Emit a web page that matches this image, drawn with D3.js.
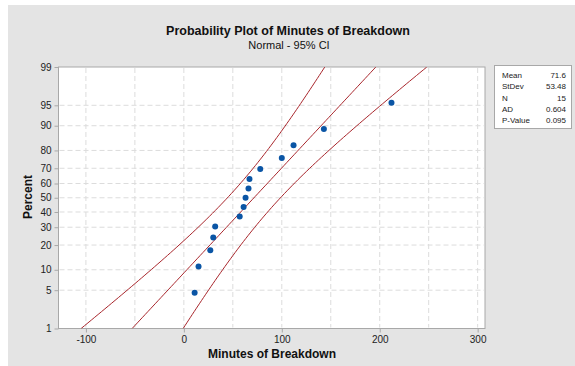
<!DOCTYPE html>
<html>
<head>
<meta charset="utf-8">
<script src="https://cdn.jsdelivr.net/npm/d3@7"></script>
<style>
  body { margin: 0; background: #fff; }
  svg { display: block; font-family: Arial, "Liberation Sans", sans-serif; }
</style>
</head>
<body>
<div id="chart"></div>
<script>
// minutes of breakdown, sorted
var minutes = [11, 15, 27, 30, 32, 57, 61, 63, 66, 67, 78, 100, 112, 143, 212];
var percentTicks = [1, 5, 10, 20, 30, 40, 50, 60, 70, 80, 90, 95, 99];
var xTicks = [-100, 0, 100, 200, 300];
var xGrid = [-100, -50, 0, 50, 100, 150, 200, 250, 300];
var statLabels = ["Mean", "StDev", "N", "AD", "P-Value"];
var statValues = ["71.6", "53.48", "15", "0.604", "0.095"];

var width = 575, height = 366;
var mean = +statValues[0], sd = +statValues[1], n = minutes.length;

// inverse normal cdf (Acklam)
function qnorm(p) {
    var a = [-3.969683028665376e+01, 2.209460984245205e+02, -2.759285104469687e+02, 1.383577518672690e+02, -3.066479806614716e+01, 2.506628277459239e+00],
        b = [-5.447609879822406e+01, 1.615858368580409e+02, -1.556989798598866e+02, 6.680131188771972e+01, -1.328068155288572e+01],
        c = [-7.784894002430293e-03, -3.223964580411365e-01, -2.400758277161838e+00, -2.549732539343734e+00, 4.374664141464968e+00, 2.938163982698783e+00],
        d = [7.784695709041462e-03, 3.224671290700398e-01, 2.445134137142996e+00, 3.754408661907416e+00];
    var q, r, pl = 0.02425;
    if (p < pl) {
        q = Math.sqrt(-2 * Math.log(p));
        return (((((c[0]*q+c[1])*q+c[2])*q+c[3])*q+c[4])*q+c[5]) / ((((d[0]*q+d[1])*q+d[2])*q+d[3])*q+1);
    }
    if (p > 1 - pl) {
        q = Math.sqrt(-2 * Math.log(1 - p));
        return -(((((c[0]*q+c[1])*q+c[2])*q+c[3])*q+c[4])*q+c[5]) / ((((d[0]*q+d[1])*q+d[2])*q+d[3])*q+1);
    }
    q = p - 0.5; r = q * q;
    return (((((a[0]*r+a[1])*r+a[2])*r+a[3])*r+a[4])*r+a[5])*q / (((((b[0]*r+b[1])*r+b[2])*r+b[3])*r+b[4])*r+1);
}

var plot = {left: 58.5, right: 485, top: 67, bottom: 328.5};

var x = d3.scaleLinear().domain([-128, 307.5]).range([plot.left, plot.right]);
var zScale = d3.scaleLinear().domain([qnorm(0.01), qnorm(0.99)]).range([plot.bottom, plot.top]);
var y = function(pct) { return zScale(qnorm(pct / 100)); };

var svg = d3.select("#chart").append("svg")
    .attr("width", width)
    .attr("height", height);

// grey panel with white frame at top-left
svg.append("rect").attr("x", 8).attr("y", 5).attr("width", width - 8).attr("height", height - 5)
    .attr("fill", "#e4e4e4");

svg.append("text").attr("x", 288).attr("y", 35).attr("text-anchor", "middle")
    .attr("font-size", 12.5).attr("font-weight", "bold").attr("fill", "#111")
    .text("Probability Plot of Minutes of Breakdown");
svg.append("text").attr("x", 289).attr("y", 49).attr("text-anchor", "middle")
    .attr("font-size", 11).attr("fill", "#111")
    .text("Normal - 95% CI");

// plot area
svg.append("rect")
    .attr("x", plot.left).attr("y", plot.top)
    .attr("width", plot.right - plot.left).attr("height", plot.bottom - plot.top)
    .attr("fill", "#fff").attr("stroke", "#a8a8a8");

var grid = svg.append("g").attr("stroke", "#dcdcdc").attr("stroke-dasharray", "5,3");
grid.selectAll(".gx").data(xGrid).enter().append("line")
    .attr("x1", function(d) { return x(d); }).attr("x2", function(d) { return x(d); })
    .attr("y1", plot.top + 1).attr("y2", plot.bottom - 1);
grid.selectAll(".gy").data(percentTicks.slice(1, -1)).enter().append("line")
    .attr("x1", plot.left + 1).attr("x2", plot.right - 1)
    .attr("y1", function(d) { return y(d); }).attr("y2", function(d) { return y(d); });

// axes
var xAxis = d3.axisBottom(x).tickValues(xTicks).tickSize(4).tickPadding(3)
    .tickFormat(function(d) { return String(d); });
var gx = svg.append("g").attr("transform", "translate(0," + plot.bottom + ")").call(xAxis);
gx.select(".domain").remove();
gx.selectAll("line").attr("stroke", "#a8a8a8");
gx.selectAll("text").attr("font-size", 10).attr("fill", "#222");

var yAxis = d3.axisLeft(zScale).tickValues(percentTicks.map(function(p) { return qnorm(p / 100); }))
    .tickFormat(function(d, i) { return percentTicks[i]; }).tickSize(4).tickPadding(3);
var gy = svg.append("g").attr("transform", "translate(" + plot.left + ",0)").call(yAxis);
gy.select(".domain").remove();
gy.selectAll("line").attr("stroke", "#a8a8a8");
gy.selectAll("text").attr("font-size", 10).attr("fill", "#222");

svg.append("text").attr("x", 272).attr("y", 358).attr("text-anchor", "middle")
    .attr("font-size", 12).attr("font-weight", "bold").attr("fill", "#111")
    .text("Minutes of Breakdown");
svg.append("text").attr("transform", "translate(32,197) rotate(-90)").attr("text-anchor", "middle")
    .attr("font-size", 12).attr("font-weight", "bold").attr("fill", "#111")
    .text("Percent");

// fitted line and 95% confidence band
svg.append("clipPath").attr("id", "clip").append("rect")
    .attr("x", plot.left).attr("y", plot.top)
    .attr("width", plot.right - plot.left).attr("height", plot.bottom - plot.top);

var zs = d3.range(zScale.domain()[0], zScale.domain()[1] + 0.001, 0.05);
var se = sd / Math.sqrt(n);
var curves = [0, -1, 1].map(function(k) {
    return zs.map(function(z) {
        return [mean + sd * z + k * 1.959964 * se * Math.sqrt(1 + z * z / 2), z];
    });
});
var line = d3.line().x(function(d) { return x(d[0]); }).y(function(d) { return zScale(d[1]); });
svg.append("g").attr("clip-path", "url(#clip)").selectAll("path").data(curves).enter().append("path")
    .attr("d", line).attr("fill", "none").attr("stroke", "#a8262c").attr("stroke-width", 1);

// points at median ranks
svg.append("g").selectAll("circle").data(minutes).enter().append("circle")
    .attr("cx", function(d) { return x(d); })
    .attr("cy", function(d, i) { return y(100 * (i + 1 - 0.3) / (n + 0.4)); })
    .attr("r", 3)
    .attr("fill", "#0a55a5");

// stats box
svg.append("rect").attr("x", 494.5).attr("y", 65.5).attr("width", 77).attr("height", 63)
    .attr("fill", "#fff").attr("stroke", "#a8a8a8");
var st = svg.append("g").attr("font-size", 8).attr("fill", "#222");
st.selectAll(".sl").data(statLabels).enter().append("text")
    .attr("x", 502).attr("y", function(d, i) { return 78 + i * 11.3; }).text(function(d) { return d; });
st.selectAll(".sv").data(statValues).enter().append("text")
    .attr("x", 566).attr("y", function(d, i) { return 78 + i * 11.3; })
    .attr("text-anchor", "end").text(function(d) { return d; });
</script>
</body>
</html>
